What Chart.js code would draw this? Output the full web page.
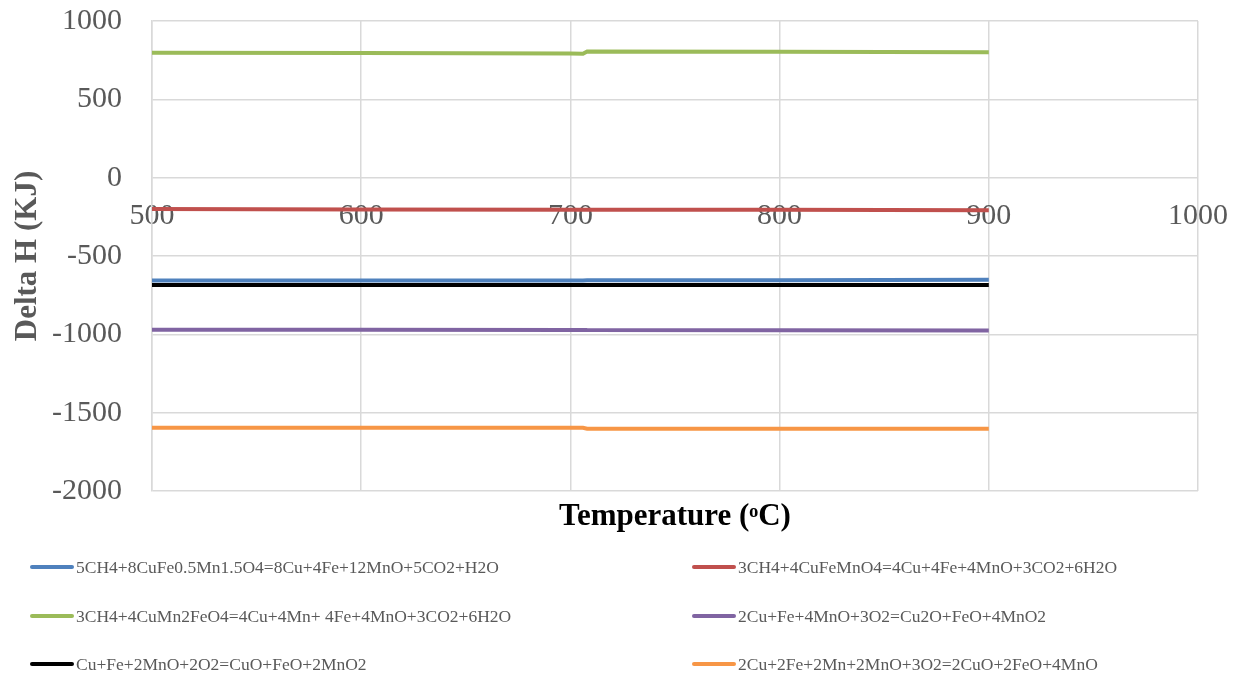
<!DOCTYPE html>
<html>
<head>
<meta charset="utf-8">
<script src="https://cdn.jsdelivr.net/npm/chart.js@4.4.0/dist/chart.umd.min.js"></script>
<style>
  html, body { margin: 0; padding: 0; background: #fff; }
</style>
</head>
<body>
<canvas id="chart" width="1240" height="677"></canvas>
<script>
// temperatures (oC) sampled along the curves
const temps = [500, 600, 700, 706, 708, 800, 900];

const seriesNames = [
  '5CH4+8CuFe0.5Mn1.5O4=8Cu+4Fe+12MnO+5CO2+H2O',
  '3CH4+4CuFeMnO4=4Cu+4Fe+4MnO+3CO2+6H2O',
  '3CH4+4CuMn2FeO4=4Cu+4Mn+ 4Fe+4MnO+3CO2+6H2O',
  '2Cu+Fe+4MnO+3O2=Cu2O+FeO+4MnO2',
  'Cu+Fe+2MnO+2O2=CuO+FeO+2MnO2',
  '2Cu+2Fe+2Mn+2MnO+3O2=2CuO+2FeO+4MnO'
];

// delta H (KJ)
const blueValues   = [-657, -657, -656, -656, -655, -654, -652];
const redValues    = [-200, -203, -205, -205, -205, -205, -208];
const greenValues  = [798, 795, 792, 791, 805, 804, 800];
const purpleValues = [-970, -971, -972, -972, -973, -974, -975];
const blackValues  = [-685, -685, -685, -685, -685, -685, -685];
const orangeValues = [-1597, -1597, -1596, -1596, -1602, -1602, -1602];

const xTicks = [500, 600, 700, 800, 900, 1000];
const yTicks = [-2000, -1500, -1000, -500, 0, 500, 1000];

const allValues = [blueValues, redValues, greenValues, purpleValues, blackValues, orangeValues];
const colors = ['#4F81BD', '#C0504D', '#9BBB59', '#8064A2', '#000000', '#F79646'];

const gridColor = '#D9D9D9';
const textColor = '#595959';
const serif = "'Liberation Serif', 'Times New Roman', serif";

const datasets = allValues.map((vals, i) => ({
  label: seriesNames[i],
  data: temps.map((t, j) => ({ x: t, y: vals[j] })),
  borderColor: colors[i],
  backgroundColor: colors[i],
  borderWidth: 4,
  pointRadius: 0,
  tension: 0,
  xAxisID: 'x',
  yAxisID: 'y'
}));

// two-column legend under the chart, like the Excel one
const legendPlugin = {
  id: 'twoColLegend',
  afterDraw(chart) {
    const ctx = chart.ctx;
    const rowsY = [567, 616, 664];
    const colsX = [30, 692];
    ctx.save();
    ctx.font = '17.5px ' + serif;
    ctx.textBaseline = 'middle';
    ctx.textAlign = 'left';
    chart.data.datasets.forEach((ds, i) => {
      const x = colsX[i % 2];
      const y = rowsY[Math.floor(i / 2)];
      ctx.strokeStyle = ds.borderColor;
      ctx.lineWidth = 4;
      ctx.lineCap = 'round';
      ctx.beginPath();
      ctx.moveTo(x + 2, y);
      ctx.lineTo(x + 42, y);
      ctx.stroke();
      ctx.fillStyle = textColor;
      ctx.fillText(ds.label, x + 46, y + 1);
    });
    ctx.restore();
  }
};

const plainTick = v => String(v);

new Chart(document.getElementById('chart'), {
  type: 'line',
  data: { datasets: datasets },
  options: {
    responsive: false,
    animation: false,
    devicePixelRatio: 1,
    layout: { padding: { top: 21, right: 42, left: 0, bottom: 0 } },
    plugins: {
      legend: { display: false },
      tooltip: { enabled: false }
    },
    scales: {
      x: {
        type: 'linear',
        position: 'bottom',
        min: 500,
        max: 1000,
        afterBuildTicks: s => { s.ticks = xTicks.map(v => ({ value: v })); },
        afterFit: s => { s.height = 186; s.paddingLeft = 0; s.paddingRight = 0; },
        ticks: { display: false },
        grid: { color: gridColor, lineWidth: 1.5, drawTicks: false },
        border: { display: false },
        title: {
          display: true,
          text: 'Temperature (ᵒC)',
          color: '#000',
          font: { family: serif, size: 31, weight: 'bold' },
          padding: { top: 0, bottom: 141 }
        }
      },
      // tick labels sit on the zero line
      x2: {
        type: 'linear',
        position: { y: 0 },
        min: 500,
        max: 1000,
        afterBuildTicks: s => { s.ticks = xTicks.map(v => ({ value: v })); },
        afterFit: s => { s.paddingLeft = 0; s.paddingRight = 0; s.paddingTop = 0; s.paddingBottom = 0; },
        grid: { display: false, drawTicks: false },
        border: { display: false },
        ticks: { color: textColor, font: { family: serif, size: 30 }, padding: 20, maxRotation: 0, callback: plainTick }
      },
      y: {
        min: -2000,
        max: 1000,
        afterBuildTicks: s => { s.ticks = yTicks.map(v => ({ value: v })); },
        afterFit: s => { s.width = 152; s.paddingTop = 0; s.paddingBottom = 0; },
        grid: { color: gridColor, lineWidth: 1.5, drawTicks: false },
        border: { color: gridColor, width: 1.5 },
        ticks: { color: textColor, font: { family: serif, size: 30 }, padding: 30, callback: plainTick },
        title: {
          display: true,
          text: 'Delta H (KJ)',
          color: textColor,
          font: { family: serif, size: 31, weight: 'bold' },
          padding: { top: 9, bottom: 0 }
        }
      }
    }
  },
  plugins: [legendPlugin]
});
</script>
</body>
</html>
